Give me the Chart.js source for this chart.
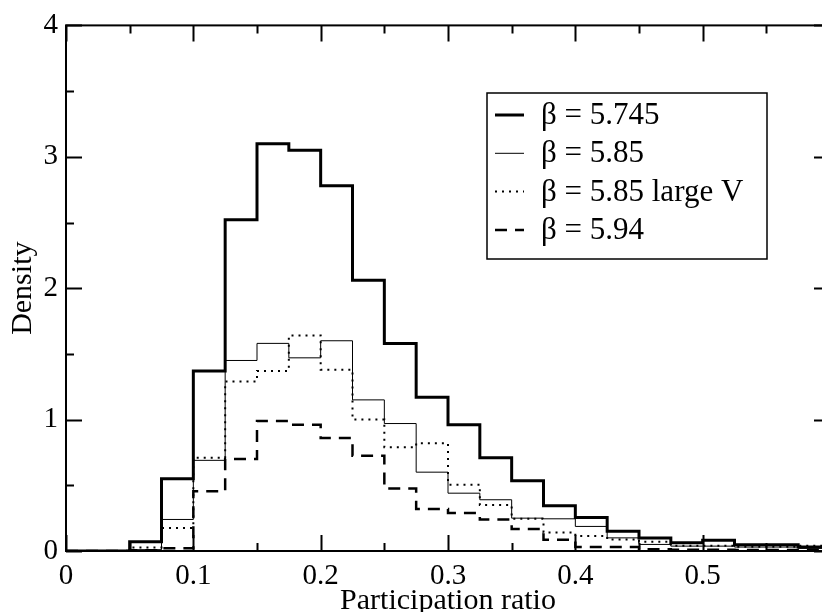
<!DOCTYPE html>
<html>
<head>
<meta charset="utf-8">
<title>Participation ratio density</title>
<script src="https://cdn.jsdelivr.net/npm/chart.js@4/dist/chart.umd.min.js"></script>
<style>
  html, body { margin: 0; padding: 0; background: #fff; overflow: hidden; }
  #wrap { width: 832px; height: 612px; }
</style>
</head>
<body>
<div id="wrap"><canvas id="myChart" width="832" height="612"></canvas></div>
<script>
// Bin edges (left edge of each bin, plus the last right edge)
const binEdges = [0, 0.05, 0.075, 0.1, 0.125, 0.15, 0.175, 0.2, 0.225, 0.25, 0.275, 0.3,
    0.325, 0.35, 0.375, 0.4, 0.425, 0.45, 0.475, 0.5, 0.525, 0.55, 0.575, 0.6];

// Density per bin
const beta5745 = [0, 0.07, 0.55, 1.37, 2.52, 3.10, 3.05, 2.78, 2.06, 1.58, 1.17, 0.96,
    0.71, 0.535, 0.345, 0.255, 0.15, 0.098, 0.063, 0.082, 0.048, 0.048, 0.03];
const beta585 = [0, 0.01, 0.24, 0.69, 1.45, 1.58, 1.47, 1.60, 1.15, 0.97, 0.60, 0.44,
    0.39, 0.25, 0.245, 0.187, 0.10, 0.05, 0.037, 0.037, 0.03, 0.03, 0.02];
const beta585large = [0, 0.027, 0.175, 0.71, 1.29, 1.37, 1.64, 1.38, 1.00, 0.79, 0.82, 0.505,
    0.35, 0.245, 0.14, 0.115, 0.087, 0.07, 0.04, 0.04, 0.032, 0.032, 0.04];
const beta594 = [0, 0.005, 0.02, 0.455, 0.70, 0.99, 0.96, 0.86, 0.725, 0.475, 0.32, 0.29,
    0.24, 0.167, 0.085, 0.03, 0.03, 0.013, 0.01, 0.01, 0.008, 0.008, 0.008];

const seriesLabels = ['β = 5.745', 'β = 5.85', 'β = 5.85 large V', 'β = 5.94'];

// Tick labels
const xTickLabels = [0, 0.1, 0.2, 0.3, 0.4, 0.5];
const xMinorTicks = [0.05, 0.15, 0.25, 0.35, 0.45, 0.55];
const yTickLabels = [0, 1, 2, 3, 4];
const yMinorTicks = [0.5, 1.5, 2.5, 3.5];

const serif = "'Liberation Serif', 'Times New Roman', serif";

// turn bin values into step points
const toSteps = (vals) => binEdges.map((e, i) => ({ x: e, y: vals[Math.min(i, vals.length - 1)] }));

// Draw frame, inward ticks on all sides and the legend box
const framePlugin = {
    id: 'frame',
    afterDraw(chart) {
        const { ctx, chartArea: a, scales } = chart;
        const x = scales.x, y = scales.y;
        ctx.save();
        ctx.strokeStyle = '#000';
        ctx.lineWidth = 2;
        ctx.strokeRect(a.left, a.top, a.right - a.left, a.bottom - a.top);

        const tickX = (v, len) => {
            const px = Math.round(x.getPixelForValue(v)) + 0.5;
            ctx.beginPath();
            ctx.moveTo(px, a.bottom); ctx.lineTo(px, a.bottom - len);
            ctx.moveTo(px, a.top); ctx.lineTo(px, a.top + len);
            ctx.stroke();
        };
        const tickY = (v, len) => {
            const py = Math.round(y.getPixelForValue(v)) + 0.5;
            ctx.beginPath();
            ctx.moveTo(a.left, py); ctx.lineTo(a.left + len, py);
            ctx.moveTo(a.right, py); ctx.lineTo(a.right - len, py);
            ctx.stroke();
        };
        ctx.lineWidth = 2;
        xTickLabels.forEach(v => tickX(v, 16));
        xMinorTicks.forEach(v => tickX(v, 8));
        yTickLabels.forEach(v => tickY(v, 16));
        yMinorTicks.forEach(v => tickY(v, 8));

        // legend
        const lx = 487, ly = 93, lw = 280, lh = 166;
        ctx.fillStyle = '#fff';
        ctx.fillRect(lx, ly, lw, lh);
        ctx.lineWidth = 1.5;
        ctx.strokeRect(lx, ly, lw, lh);
        ctx.font = '31px ' + serif;
        ctx.textBaseline = 'middle';
        chart.data.datasets.forEach((ds, i) => {
            const rowY = 115 + i * 38.3;
            ctx.save();
            ctx.strokeStyle = '#000';
            ctx.lineWidth = ds.borderWidth;
            ctx.setLineDash(ds.borderDash || []);
            ctx.beginPath();
            ctx.moveTo(495, rowY); ctx.lineTo(524, rowY);
            ctx.stroke();
            ctx.restore();
            ctx.fillStyle = '#000';
            ctx.fillText(ds.label, 541, rowY + 1);
        });
        ctx.restore();
    }
};

const ctx = document.getElementById('myChart');

new Chart(ctx, {
    type: 'line',
    data: {
        datasets: [
            { label: seriesLabels[0], data: toSteps(beta5745), borderColor: '#000', borderWidth: 3 },
            { label: seriesLabels[1], data: toSteps(beta585), borderColor: '#000', borderWidth: 1 },
            { label: seriesLabels[2], data: toSteps(beta585large), borderColor: '#000', borderWidth: 2, borderDash: [2, 5] },
            { label: seriesLabels[3], data: toSteps(beta594), borderColor: '#000', borderWidth: 2.5, borderDash: [12, 8] }
        ]
    },
    options: {
        responsive: false,
        animation: false,
        devicePixelRatio: 1,
        layout: { padding: { top: 14, right: 2, left: 0, bottom: 0 } },
        elements: {
            line: { stepped: 'before', fill: false, borderCapStyle: 'butt' },
            point: { radius: 0 }
        },
        plugins: {
            legend: { display: false },
            tooltip: { enabled: false }
        },
        scales: {
            x: {
                type: 'linear',
                min: 0,
                max: 0.6,
                border: { display: false },
                grid: { display: false, drawTicks: false },
                afterBuildTicks: (s) => { s.ticks = xTickLabels.map(v => ({ value: v })); },
                afterFit: (s) => { s.height = 61; },
                ticks: {
                    color: '#000',
                    padding: 8,
                    maxRotation: 0,
                    autoSkip: false,
                    font: { family: serif, size: 29 },
                    callback: (v) => String(v)
                },
                title: {
                    display: true,
                    text: 'Participation ratio',
                    color: '#000',
                    padding: { top: 0, bottom: -7 },
                    font: { family: serif, size: 30 }
                }
            },
            y: {
                min: 0,
                max: 4,
                border: { display: false },
                grid: { display: false, drawTicks: false },
                afterBuildTicks: (s) => { s.ticks = yTickLabels.map(v => ({ value: v })); },
                afterFit: (s) => { s.width = 66; },
                ticks: {
                    color: '#000',
                    padding: 8,
                    font: { family: serif, size: 29 }
                },
                title: {
                    display: true,
                    text: 'Density',
                    color: '#000',
                    padding: { top: 5, bottom: 0 },
                    font: { family: serif, size: 30 }
                }
            }
        }
    },
    plugins: [framePlugin]
});
</script>
</body>
</html>
